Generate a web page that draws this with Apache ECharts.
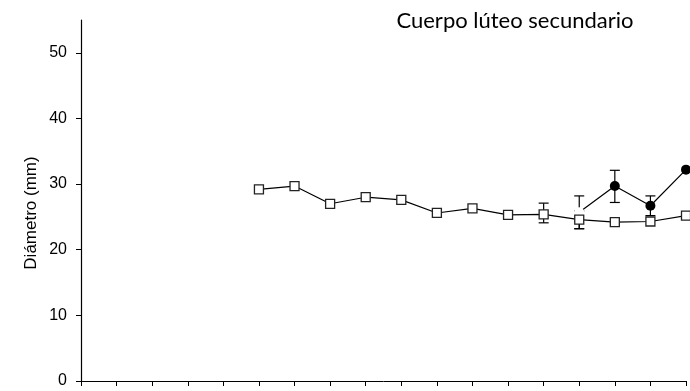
<!DOCTYPE html>
<html>
<head>
<meta charset="utf-8">
<title>Cuerpo lúteo secundario</title>
<script src="https://cdn.jsdelivr.net/npm/echarts@6/dist/echarts.min.js"></script>
<style>
  html, body { margin: 0; padding: 0; background: #fff; }
  #chart { width: 690px; height: 391px; }
</style>
</head>
<body>
<div id="chart"></div>
<script>
// Sampling days (x positions on the axis)
const days = [5, 6, 7, 8, 9, 10, 11, 12, 13, 14, 15, 16, 17];
// Open squares: mean diameter (mm)
const squareMeans = [29.2, 29.7, 27.0, 28.0, 27.6, 25.6, 26.3, 25.3, 25.4, 24.6, 24.2, 24.3, 25.2];
// Error limits for open squares (only where the bars extend beyond the marker)
const squareErrDays = [13, 14];
const squareErrLow = [24.1, 23.2];
const squareErrHigh = [27.1, 25.9];

// Filled circles
const circleDays = [14, 15, 16, 17];
const circleMeans = [25.7, 29.7, 26.7, 32.2];
const circleErrLow = [23.2, 27.2, 25.2, 32.2];
const circleErrHigh = [28.2, 32.1, 28.2, 32.2];

const yTicks = [0, 10, 20, 30, 40, 50];

const chart = echarts.init(document.getElementById('chart'), null, { renderer: 'canvas' });

const squareData = days.map((d, i) => [d, squareMeans[i]]);
const circleData = circleDays.map((d, i) => {
  const item = { value: [d, circleMeans[i]] };
  // first point of the filled series is drawn as a blank spot
  if (i === 0) {
    item.itemStyle = { color: '#fff', borderWidth: 0 };
  }
  return item;
});

const errData = [];
squareErrDays.forEach((d, i) => errData.push([d, squareErrLow[i], squareErrHigh[i]]));
circleDays.forEach((d, i) => {
  if (circleErrHigh[i] > circleErrLow[i]) errData.push([d, circleErrLow[i], circleErrHigh[i]]);
});

function renderErr(params, api) {
  const x = api.value(0);
  const lo = api.coord([x, api.value(1)]);
  const hi = api.coord([x, api.value(2)]);
  const half = 5;
  const style = { stroke: '#000', lineWidth: 1.2 };
  return {
    type: 'group',
    children: [
      { type: 'line', shape: { x1: lo[0], y1: lo[1], x2: hi[0], y2: hi[1] }, style },
      { type: 'line', shape: { x1: hi[0] - half, y1: hi[1], x2: hi[0] + half, y2: hi[1] }, style },
      { type: 'line', shape: { x1: lo[0] - half, y1: lo[1], x2: lo[0] + half, y2: lo[1] }, style }
    ]
  };
}

const option = {
  animation: false,
  backgroundColor: '#fff',
  grid: { left: 81, right: 4, top: 20, bottom: 10, containLabel: false },
  xAxis: {
    type: 'value',
    min: 0,
    max: 17,
    interval: 1,
    axisLine: { show: true, lineStyle: { color: '#000', width: 1 } },
    axisTick: { show: true, inside: false, length: 5, lineStyle: { color: '#000', width: 1 } },
    axisLabel: { show: false },
    splitLine: { show: false }
  },
  yAxis: {
    type: 'value',
    min: 0,
    max: 55,
    interval: 10,
    axisLine: { show: true, lineStyle: { color: '#000', width: 1.2 } },
    axisTick: { show: true, inside: false, length: 5, customValues: yTicks, lineStyle: { color: '#000', width: 1 } },
    axisLabel: {
      customValues: yTicks,
      margin: 14,
      color: '#000',
      fontFamily: 'Liberation Sans, Arial, sans-serif',
      fontSize: 16
    },
    splitLine: { show: false }
  },
  graphic: [
    {
      type: 'text',
      x: 515,
      y: 21,
      style: {
        text: 'Cuerpo lúteo secundario',
        x: 0,
        y: 0,
        align: 'center',
        verticalAlign: 'middle',
        fill: '#000',
        font: '22px Lato, "Open Sans", sans-serif'
      }
    },
    {
      type: 'text',
      rotation: Math.PI / 2,
      x: 31,
      y: 213,
      style: {
        text: 'Diámetro (mm)',
        x: 0,
        y: 0,
        align: 'center',
        verticalAlign: 'middle',
        fill: '#000',
        font: '17px "Liberation Sans", Arial, sans-serif'
      }
    }
  ],
  series: [
    {
      type: 'custom',
      z: 1,
      renderItem: renderErr,
      data: errData,
      silent: true
    },
    {
      type: 'line',
      z: 2,
      data: circleData,
      symbol: 'circle',
      symbolSize: 10,
      showAllSymbol: true,
      lineStyle: { color: '#000', width: 1.2 },
      itemStyle: { color: '#000', borderColor: '#000', borderWidth: 0 }
    },
    {
      type: 'line',
      z: 3,
      data: squareData,
      symbol: 'rect',
      symbolSize: 9,
      showAllSymbol: true,
      lineStyle: { color: '#000', width: 1.2 },
      itemStyle: { color: '#fff', borderColor: '#222', borderWidth: 1.3 }
    }
  ]
};

chart.setOption(option);
</script>
</body>
</html>
